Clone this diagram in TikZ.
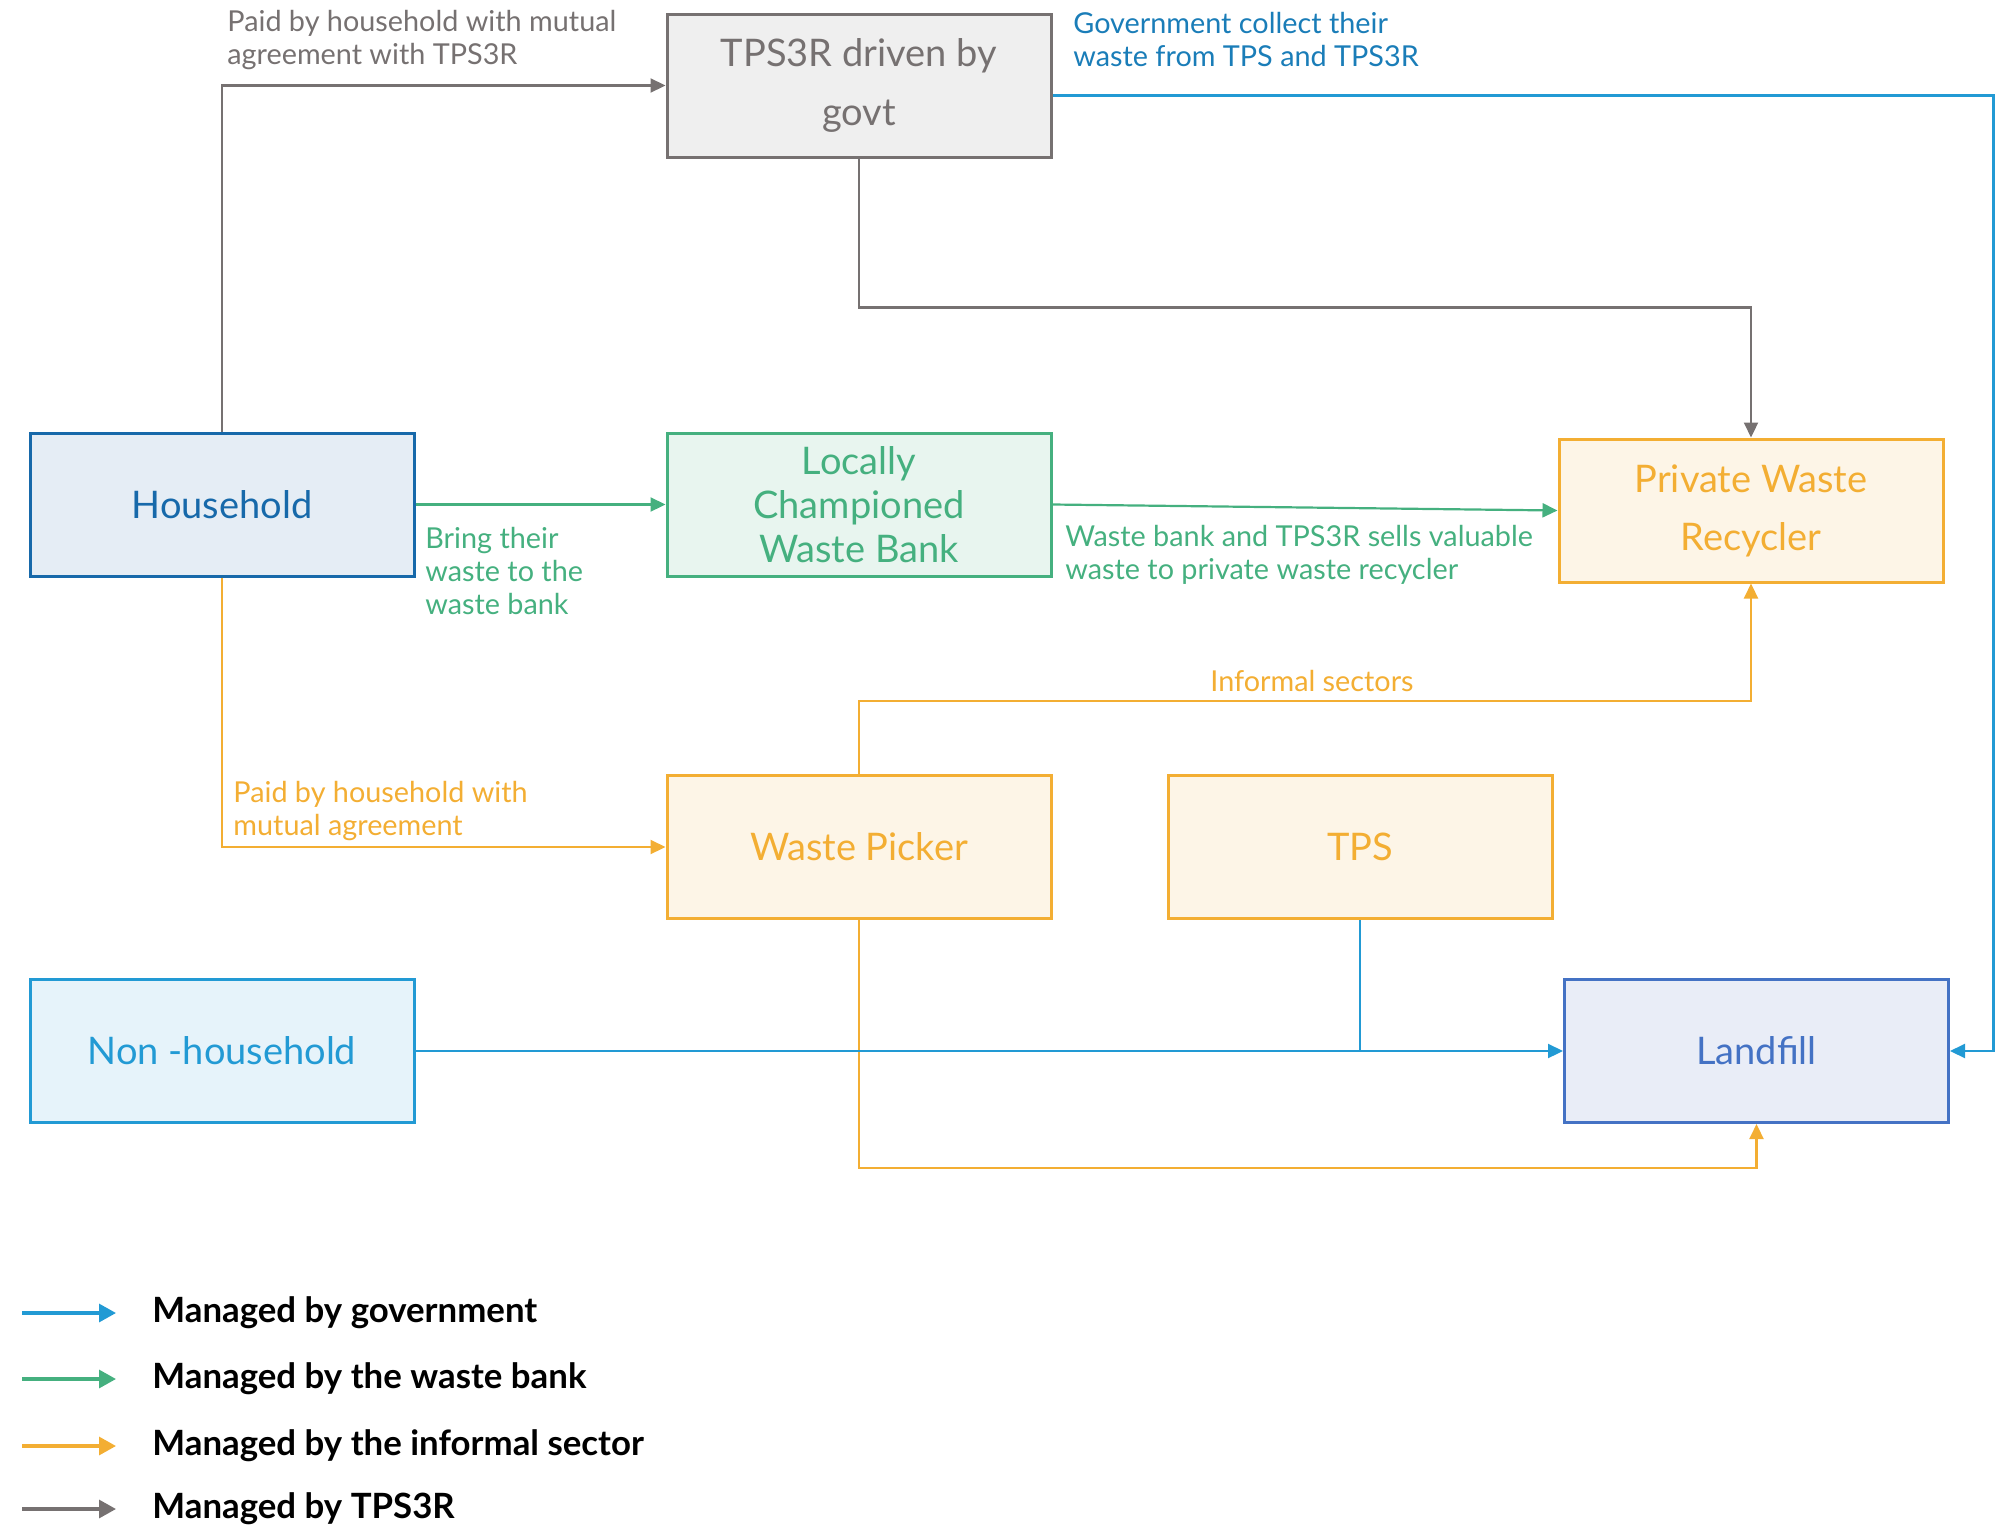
\documentclass[tikz,border=0pt]{standalone}
\usepackage{fontspec}
\setmainfont{Lato}
\usetikzlibrary{arrows.meta}
\definecolor{tpsgray}{HTML}{767171}
\definecolor{tpsfill}{HTML}{EFEFEF}
\definecolor{hhblue}{HTML}{1769AA}
\definecolor{hhfill}{HTML}{E5EDF5}
\definecolor{govblue}{HTML}{229AD4}
\definecolor{govfill}{HTML}{E6F3FA}
\definecolor{labblue}{HTML}{1A7DB8}
\definecolor{bankgreen}{HTML}{45B07F}
\definecolor{bankfill}{HTML}{E8F5EF}
\definecolor{infoorange}{HTML}{F3AE33}
\definecolor{infofill}{HTML}{FDF5E7}
\definecolor{fillblue}{HTML}{4472C4}
\definecolor{fillfill}{HTML}{E9EDF7}
\begin{document}
\begin{tikzpicture}[x=0.5pt,y=-0.5pt,
    box/.style={draw, line width=1.5pt, minimum width=192pt, minimum height=71.5pt,
    align=center, inner sep=0pt, font=\fontsize{19}{22}\selectfont},
    link/.style={line width=1.1pt, -{Triangle[length=7.5pt,width=7pt]}},
    note/.style={align=left, inner sep=0pt, font=\fontsize{14.4}{16.5}\selectfont},
    key/.style={line width=1.6pt, -{Triangle[length=8.5pt,width=9pt]}},
    keytext/.style={anchor=west, inner sep=0pt, font=\fontsize{17.4}{20}\selectfont\bfseries}]
    \useasboundingbox (0,0) rectangle (2015,1526);
    % boxes
    \node[box, draw=tpsgray, fill=tpsfill, text=tpsgray,
        font=\fontsize{19}{29.5}\selectfont] (tps3r) at (859,85.5) {TPS3R driven by\\govt};
    \node[box, draw=hhblue, fill=hhfill, text=hhblue] (hh) at (222,504.5) {Household};
    \node[box, draw=bankgreen, fill=bankfill, text=bankgreen] (bank) at (859,504.5)
        {Locally\\Championed\\Waste Bank};
    \node[box, draw=infoorange, fill=infofill, text=infoorange,
        font=\fontsize{19}{29}\selectfont] (recyc) at (1751,510.5) {Private Waste\\Recycler};
    \node[box, draw=infoorange, fill=infofill, text=infoorange] (picker) at (859,847) {Waste Picker};
    \node[box, draw=infoorange, fill=infofill, text=infoorange] (tps) at (1360,847) {TPS};
    \node[box, draw=govblue, fill=govfill, text=govblue] (nonhh) at (222,1051) {Non -household};
    \node[box, draw=fillblue, fill=fillfill, text=fillblue] (landfill) at (1756.5,1051) {Landfill};
    % connectors
    \draw[link, tpsgray] (hh.north) |- (tps3r.west);
    \draw[link, tpsgray] (tps3r.south) -- ++(0,149) -| (recyc.north);
    \draw[link, govblue] ([yshift=-5pt]tps3r.east) -- ++(941,0) |- (landfill.east);
    \draw[link, bankgreen] (hh.east) -- (bank.west);
    \draw[link, bankgreen] (bank.east) -- (recyc.west);
    \draw[link, infoorange] (hh.south) |- (picker.west);
    \draw[link, infoorange] (picker.north) -- ++(0,-73) -| (recyc.south);
    \draw[link, infoorange] (picker.south) -- ++(0,248) -| (landfill.south);
    \draw[link, govblue] (nonhh.east) -- (landfill.west);
    \draw[line width=1.1pt, govblue] (tps.south) -- (tps.south |- nonhh.east);
    % labels
    \node[note, anchor=west, text=tpsgray] (paidtps) at (227,40)
        {Paid by household with mutual\\agreement with TPS3R};
    \node[note, anchor=west, text=labblue] (govcol) at (1073,40)
        {Government collect their\\waste from TPS and TPS3R};
    \node[note, anchor=west, text=bankgreen] (bring) at (425,571)
        {Bring their\\waste to the\\waste bank};
    \node[note, anchor=west, text=bankgreen] (sells) at (1065,555)
        {Waste bank and TPS3R sells valuable\\waste to private waste recycler};
    \node[note, text=infoorange] (informal) at (1312,681) {Informal sectors};
    \node[note, anchor=west, text=infoorange] (paidpick) at (233,811)
        {Paid by household with\\mutual agreement};
    % legend
    \coordinate (k1) at (22,1313);
    \coordinate (k2) at (22,1379);
    \coordinate (k3) at (22,1446);
    \coordinate (k4) at (22,1509);
    \draw[key, govblue] (k1) -- ++(94,0);
    \draw[key, bankgreen] (k2) -- ++(94,0);
    \draw[key, infoorange] (k3) -- ++(94,0);
    \draw[key, tpsgray] (k4) -- ++(94,0);
    \node[keytext] (t1) at ([xshift=65pt]k1) {Managed by government};
    \node[keytext] (t2) at ([xshift=65pt]k2) {Managed by the waste bank};
    \node[keytext] (t3) at ([xshift=65pt]k3) {Managed by the informal sector};
    \node[keytext] (t4) at ([xshift=65pt]k4) {Managed by TPS3R};
\end{tikzpicture}
\end{document}
